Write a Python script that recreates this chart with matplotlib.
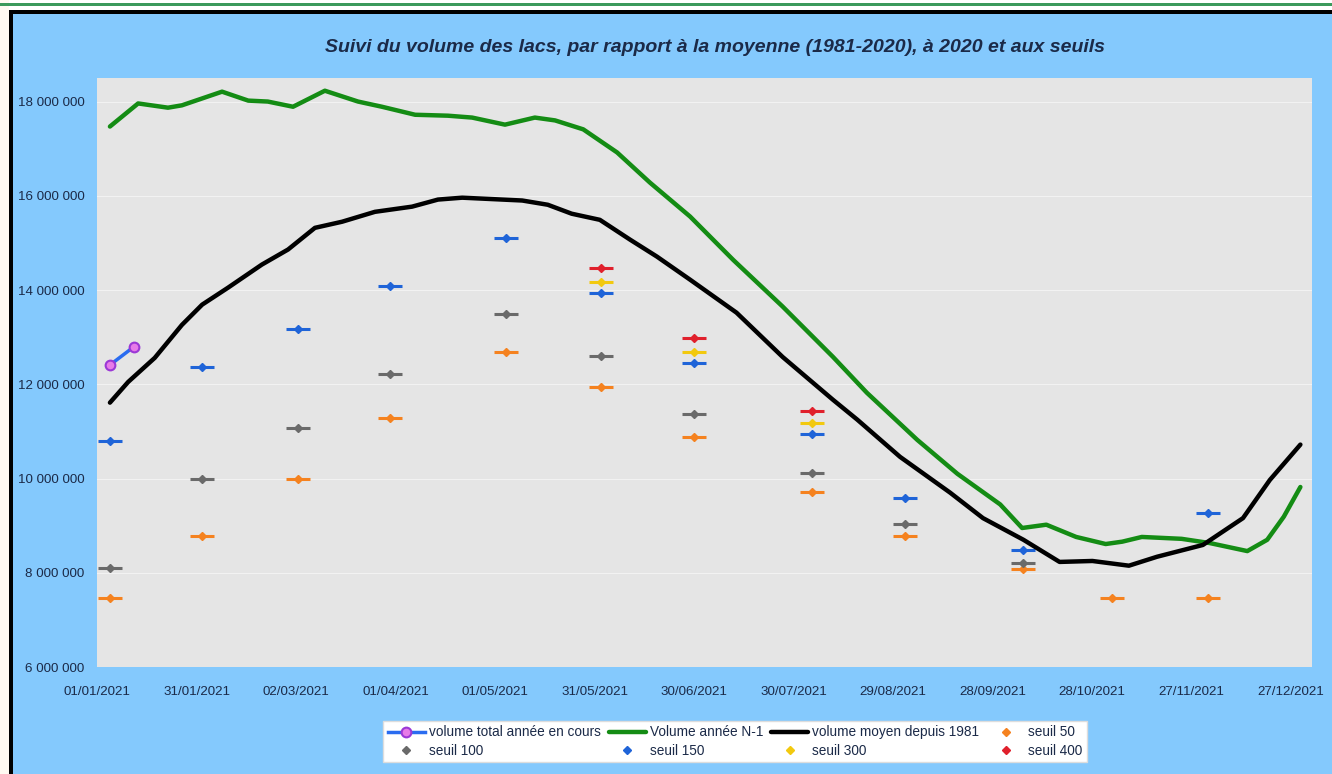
import datetime as dt
import numpy as np
import matplotlib.pyplot as plt
from matplotlib.patches import Rectangle
from matplotlib.ticker import FuncFormatter, FixedLocator

plt.rcParams['font.family'] = ['Liberation Sans', 'DejaVu Sans']

# day numbers counted from 01/01/2021, volumes in millions of m3
start = dt.date(2021, 1, 1)
tick_days = list(range(0, 361, 30))

current_days = [3.9, 11.2]
current_vals = [12.41, 12.80]

n1_days = [3.9, 12.4, 21.4, 25.6, 37.7, 45.6, 51.5, 59.1, 68.7, 78.7, 85.9, 95.9,
           105.8, 113.1, 123.0, 132.0, 138.1, 146.6, 156.8, 166.7, 178.8, 191.8,
           206.7, 221.9, 232.1, 247.3, 259.4, 272.3, 278.9, 286.2, 295.2, 304.1,
           309.1, 315.0, 327.0, 335.5, 346.8, 352.8, 357.8, 362.8]
n1_vals = [17.47, 17.96, 17.87, 17.92, 18.21, 18.02, 18.0, 17.89, 18.23, 18.0,
           17.89, 17.72, 17.70, 17.66, 17.51, 17.66, 17.60, 17.41, 16.92, 16.28,
           15.56, 14.64, 13.65, 12.58, 11.82, 10.82, 10.10, 9.45, 8.95, 9.02,
           8.76, 8.61, 8.66, 8.76, 8.72, 8.63, 8.46, 8.70, 9.19, 9.82]

mean_days = [3.9, 9.4, 17.4, 25.6, 31.7, 39.5, 49.7, 57.6, 65.7, 73.9, 83.8, 95.0,
             102.8, 110.1, 128.2, 135.9, 143.1, 151.6, 160.7, 168.8, 178.8, 192.8,
             206.7, 221.9, 229.2, 242.1, 257.2, 267.1, 279.3, 290.2, 300.1, 311.1,
             319.6, 333.4, 345.5, 353.6, 362.8]
mean_vals = [11.61, 12.05, 12.56, 13.26, 13.69, 14.05, 14.54, 14.86, 15.32,
             15.45, 15.66, 15.77, 15.92, 15.96, 15.90, 15.81, 15.62, 15.49,
             15.07, 14.71, 14.22, 13.52, 12.58, 11.67, 11.25, 10.46, 9.70, 9.16,
             8.70, 8.23, 8.25, 8.15, 8.34, 8.59, 9.16, 9.97, 10.72]

s50_days = [3.9, 31.8, 60.6, 88.4, 123.2, 152.0, 179.9, 215.6, 243.5, 279.3, 306.1, 334.9]
s50_vals = [7.47, 8.78, 10.0, 11.29, 12.69, 11.95, 10.89, 9.72, 8.78, 8.08, 7.47, 7.47]
s100_days = [3.9, 31.8, 60.6, 88.4, 123.2, 152.0, 179.9, 215.6, 243.5, 279.3]
s100_vals = [8.10, 10.0, 11.08, 12.22, 13.50, 12.61, 11.37, 10.12, 9.04, 8.21]
s150_days = [3.9, 31.8, 60.6, 88.4, 123.2, 152.0, 179.9, 215.6, 243.5, 279.3, 334.9]
s150_vals = [10.80, 12.37, 13.18, 14.09, 15.11, 13.94, 12.46, 10.95, 9.59, 8.49, 9.27]
s300_days = [152.0, 179.9, 215.6]
s300_vals = [14.18, 12.69, 11.18]
s400_days = [152.0, 179.9, 215.6]
s400_vals = [14.47, 12.99, 11.44]

bg = '#84c9fd'
txt = '#1b2a48'

fig = plt.figure(figsize=(13.32, 7.74), dpi=100, facecolor=bg)
ax = fig.add_axes([97 / 1332, 1 - 667 / 774, (1312 - 97) / 1332, (667 - 78) / 774])
ax.set_facecolor('#e5e5e5')
for s in ax.spines.values():
    s.set_visible(False)

# frame bits of the original sheet
fig.add_artist(Rectangle((0, 1 - 14 / 774), 1, 14 / 774, transform=fig.transFigure,
                         facecolor='white', edgecolor='none'))
fig.add_artist(Rectangle((0, 0), 9 / 1332, 1, transform=fig.transFigure,
                         facecolor='#fffaf2', edgecolor='none'))
fig.add_artist(Rectangle((0, 1 - 6 / 774), 1, 3 / 774, transform=fig.transFigure,
                         facecolor='#3c9a5c', edgecolor='none'))
fig.add_artist(Rectangle((9 / 1332, 1 - 14 / 774), 1, 4 / 774, transform=fig.transFigure,
                         facecolor='black', edgecolor='none'))
fig.add_artist(Rectangle((9 / 1332, 0), 4 / 1332, 1 - 10 / 774, transform=fig.transFigure,
                         facecolor='black', edgecolor='none'))

ax.yaxis.grid(True, color='#f2f2f2', lw=0.8)
ax.set_axisbelow(True)

seuils = [
    (s50_days, s50_vals, '#f5821f', 'seuil 50'),
    (s100_days, s100_vals, '#6a6a6a', 'seuil 100'),
    (s150_days, s150_vals, '#1f64d8', 'seuil 150'),
    (s300_days, s300_vals, '#f2c90f', 'seuil 300'),
    (s400_days, s400_vals, '#e0202c', 'seuil 400'),
]
handles = {}
for d, v, c, lab in seuils:
    y = np.array(v) * 1e6
    ax.plot(d, y, ls='none', marker='_', ms=17, mew=2.2, color=c, zorder=3)
    h, = ax.plot(d, y, ls='none', marker='D', ms=4, color=c, zorder=3, label=lab)
    handles[lab] = h

h_n1, = ax.plot(n1_days, np.array(n1_vals) * 1e6, color='#148c14', lw=3.2,
                solid_joinstyle='round', solid_capstyle='round', label='Volume année N-1', zorder=4)
h_mean, = ax.plot(mean_days, np.array(mean_vals) * 1e6, color='black', lw=3.2,
                  solid_joinstyle='round', solid_capstyle='round',
                  label='volume moyen depuis 1981', zorder=4)
h_cur, = ax.plot(current_days, np.array(current_vals) * 1e6, color='#2a6cf0', lw=2.5,
                 marker='o', ms=7, mfc='#e77be8', mec='#9b38d6', mew=1.5,
                 label='volume total année en cours', zorder=5)

ax.set_xlim(0, 366.3)
ax.set_ylim(6e6, 18.5e6)
ax.xaxis.set_major_locator(FixedLocator(tick_days))
ax.set_xticklabels([(start + dt.timedelta(days=d)).strftime('%d/%m/%Y') for d in tick_days])
ax.set_yticks(np.arange(6e6, 18.1e6, 2e6))
ax.yaxis.set_major_formatter(FuncFormatter(lambda v, p: f'{int(v):,}'.replace(',', ' ')))
ax.tick_params(length=0, labelsize=9.6, labelcolor=txt)
ax.tick_params(axis='x', pad=14)
ax.tick_params(axis='y', pad=9)

fig.text(0.537, 1 - 47 / 774, 'Suivi du volume des lacs, par rapport à la moyenne (1981-2020), à 2020 et aux seuils',
         ha='center', va='center', fontsize=14, fontweight='bold', fontstyle='italic', color=txt)

order = [h_cur, handles['seuil 100'], h_n1, handles['seuil 150'],
         h_mean, handles['seuil 300'], handles['seuil 50'], handles['seuil 400']]
leg = fig.legend(handles=order, labels=[h.get_label() for h in order], ncol=4,
                 loc='center', bbox_to_anchor=(0.552, 0.042), fontsize=9.8,
                 frameon=True, fancybox=False, edgecolor='#dddddd', facecolor='white',
                 framealpha=1, handlelength=2.7, columnspacing=0.6, handletextpad=0.3,
                 borderpad=0.35, labelspacing=0.3)
for t in leg.get_texts():
    t.set_color(txt)

fig.savefig('out.png', dpi=100, facecolor=bg)
